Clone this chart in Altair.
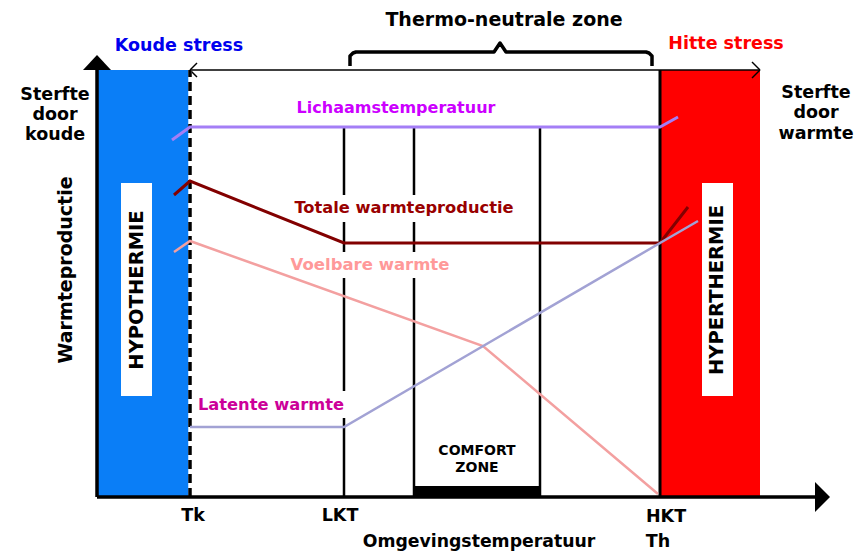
import altair as alt
import pandas as pd

# Diagram coordinates: x = position along "Omgevingstemperatuur" (0 = origin),
# y = "Warmteproductie" (0 = x axis)
X_DOMAIN = [-89, 762]
Y_DOMAIN = [-55, 489]
W, H = 851, 544

# zone limits on the temperature axis
TK, LKT, COMFORT_LO, COMFORT_HI, HKT = 93, 247, 317, 443, 563
COLD_END, HOT_END, TOP = 0, 663, 427

# curves
body_x = [75, 93, 563, 581]
body_y = [357, 370, 370, 380]
total_x = [77, 93, 247, 563, 591]
total_y = [302, 316, 254, 254, 290]
sens_x = [77, 93, 386, 561]
sens_y = [245, 256, 151, 3]
lat_x = [93, 247, 563, 601]
lat_y = [70, 70, 254, 276]

# brace over thermo-neutral zone
brace_x = [253, 253, 256, 259, 397, 403, 409, 549, 552, 555, 555]
brace_y = [431, 441, 444, 445, 445, 454, 445, 445, 444, 441, 431]

FONT = "DejaVu Sans"
xs = alt.Scale(domain=X_DOMAIN, nice=False, zero=False)
ys = alt.Scale(domain=Y_DOMAIN, nice=False, zero=False)


def X(f="x"):
    return alt.X(f"{f}:Q", scale=xs, axis=None)


def Y(f="y"):
    return alt.Y(f"{f}:Q", scale=ys, axis=None)


# rectangles
rects = pd.DataFrame([
    dict(x=COLD_END, x2=TK, y=0, y2=TOP, c="#0a7ef7"),
    dict(x=HKT, x2=HOT_END, y=0, y2=TOP, c="#ff0000"),
    dict(x=24, x2=55, y=101, y2=314, c="#ffffff"),
    dict(x=605, x2=636, y=101, y2=314, c="#ffffff"),
])
rect_layer = alt.Chart(rects).mark_rect().encode(
    x=X("x"), x2="x2", y=Y("y"), y2="y2", color=alt.Color("c:N", scale=None))

segs = pd.DataFrame([
    dict(x=TK, y=TOP, x2=HOT_END, y2=TOP, w=1.5),
    dict(x=TK + 7, y=TOP + 7, x2=TK, y2=TOP, w=1.5),
    dict(x=TK, y=TOP, x2=TK + 7, y2=TOP - 7, w=1.5),
    dict(x=HOT_END - 8, y=TOP + 8, x2=HOT_END, y2=TOP, w=1.5),
    dict(x=HOT_END, y=TOP, x2=HOT_END - 8, y2=TOP - 8, w=1.5),
    dict(x=LKT, y=0, x2=LKT, y2=370, w=2.5),
    dict(x=COMFORT_LO, y=0, x2=COMFORT_LO, y2=370, w=2.5),
    dict(x=COMFORT_HI, y=0, x2=COMFORT_HI, y2=370, w=2.5),
    dict(x=HKT, y=0, x2=HKT, y2=TOP, w=3),
])
seg_layer = alt.Chart(segs).mark_rule(color="black").encode(
    x=X("x"), y=Y("y"), x2="x2", y2="y2", strokeWidth=alt.StrokeWidth("w:Q", scale=None))

dash_df = pd.DataFrame([dict(x=TK, y=0, y2=TOP)])
dash_white = alt.Chart(dash_df).mark_rule(color="white", strokeWidth=3.5).encode(
    x=X("x"), y=Y("y"), y2="y2")
dash_black = alt.Chart(dash_df).mark_rule(color="black", strokeWidth=3.5, strokeDash=[9, 5]).encode(
    x=X("x"), y=Y("y"), y2="y2")

boxes = pd.DataFrame([
    dict(x=COMFORT_LO, x2=COMFORT_HI, y=0, y2=11, c="#000000"),
    dict(x=193, x2=420, y=275, y2=302, c="#ffffff"),
    dict(x=191, x2=355, y=219, y2=245, c="#ffffff"),
    dict(x=98, x2=251, y=79, y2=106, c="#ffffff"),
])
box_layer = alt.Chart(boxes).mark_rect().encode(
    x=X("x"), x2="x2", y=Y("y"), y2="y2", color=alt.Color("c:N", scale=None))

rows = []
for name, xx, yy, col, w in [
    ("body", body_x, body_y, "#a47ef6", 3),
    ("total", total_x, total_y, "#820000", 3),
    ("sens", sens_x, sens_y, "#f3a0a0", 2.5),
    ("lat", lat_x, lat_y, "#a2a2d4", 2.5),
]:
    for i, (a, b) in enumerate(zip(xx, yy)):
        rows.append(dict(s=name, x=a, y=b, o=i, c=col, w=w))
curves = pd.DataFrame(rows)
curve_layer = alt.Chart(curves).mark_line().encode(
    x=X("x"), y=Y("y"), detail="s:N", order="o:Q",
    color=alt.Color("c:N", scale=None), strokeWidth=alt.StrokeWidth("w:Q", scale=None))

axes = pd.DataFrame([
    dict(x=0, y=0, x2=0, y2=429),
    dict(x=0, y=0, x2=722, y2=0),
])
axis_layer = alt.Chart(axes).mark_rule(color="black", strokeWidth=3.5).encode(
    x=X("x"), y=Y("y"), x2="x2", y2="y2")

up_arrow = alt.Chart(pd.DataFrame([dict(x=0, y=434.5)])).mark_point(
    shape="M -1 0.536 L 1 0.536 L 0 -0.536 Z", size=784, filled=True, color="black", opacity=1
).encode(x=X("x"), y=Y("y"))
right_arrow = alt.Chart(pd.DataFrame([dict(x=725.5, y=0)])).mark_point(
    shape="M -0.5 -1 L -0.5 1 L 0.5 0 Z", size=900, filled=True, color="black", opacity=1
).encode(x=X("x"), y=Y("y"))

brace = pd.DataFrame(dict(x=brace_x, y=brace_y, o=list(range(len(brace_x)))))
brace_layer = alt.Chart(brace).mark_line(color="black", strokeWidth=3.5, strokeJoin="round").encode(
    x=X("x"), y=Y("y"), order="o:Q")

texts = pd.DataFrame([
    dict(t="Thermo-neutrale zone", x=407, y=477, c="#000000", s=19, a=0),
    dict(t="Koude stress", x=82, y=451, c="#0000ee", s=17.5, a=0),
    dict(t="Hitte stress", x=629, y=453, c="#ff0000", s=17.5, a=0),
    dict(t="Sterfte", x=-42, y=402, c="#000000", s=17.5, a=0),
    dict(t="door", x=-42, y=382, c="#000000", s=17.5, a=0),
    dict(t="koude", x=-42, y=362, c="#000000", s=17.5, a=0),
    dict(t="Sterfte", x=719, y=404, c="#000000", s=17.5, a=0),
    dict(t="door", x=719, y=384, c="#000000", s=17.5, a=0),
    dict(t="warmte", x=719, y=363, c="#000000", s=17.5, a=0),
    dict(t="Lichaamstemperatuur", x=299, y=389, c="#cc00ff", s=16, a=0),
    dict(t="Totale warmteproductie", x=307, y=289, c="#990000", s=16.3, a=0),
    dict(t="Voelbare warmte", x=273, y=232, c="#ff9999", s=16.5, a=0),
    dict(t="Latente warmte", x=174, y=92, c="#cc0099", s=16.3, a=0),
    dict(t="COMFORT", x=380, y=46.5, c="#000000", s=14, a=0),
    dict(t="ZONE", x=380, y=29.5, c="#000000", s=14, a=0),
    dict(t="Tk", x=96, y=-19, c="#000000", s=17.5, a=0),
    dict(t="LKT", x=243, y=-19, c="#000000", s=17.5, a=0),
    dict(t="HKT", x=569, y=-20, c="#000000", s=17.5, a=0),
    dict(t="Th", x=561, y=-45, c="#000000", s=17.5, a=0),
    dict(t="Omgevingstemperatuur", x=382, y=-45, c="#000000", s=17.3, a=0),
    dict(t="Warmteproductie", x=-31, y=227, c="#000000", s=19, a=270),
    dict(t="HYPOTHERMIE", x=40, y=207, c="#000000", s=19.5, a=270),
    dict(t="HYPERTHERMIE", x=620, y=207, c="#000000", s=19.5, a=270),
])
text_layer = alt.Chart(texts).mark_text(
    font=FONT, fontWeight="bold", baseline="middle", align="center"
).encode(
    x=X("x"), y=Y("y"), text="t:N",
    color=alt.Color("c:N", scale=None),
    size=alt.Size("s:Q", scale=None),
    angle=alt.Angle("a:Q", scale=None),
)

chart = alt.layer(
    rect_layer, seg_layer, dash_white, dash_black, box_layer, curve_layer,
    axis_layer, up_arrow, right_arrow, brace_layer, text_layer,
).properties(
    width=W, height=H, padding=0, autosize=alt.AutoSizeParams(type="none"), background="white"
).configure_view(stroke=None)

chart.save("out.html", embed_options={"renderer": "svg", "actions": False})
